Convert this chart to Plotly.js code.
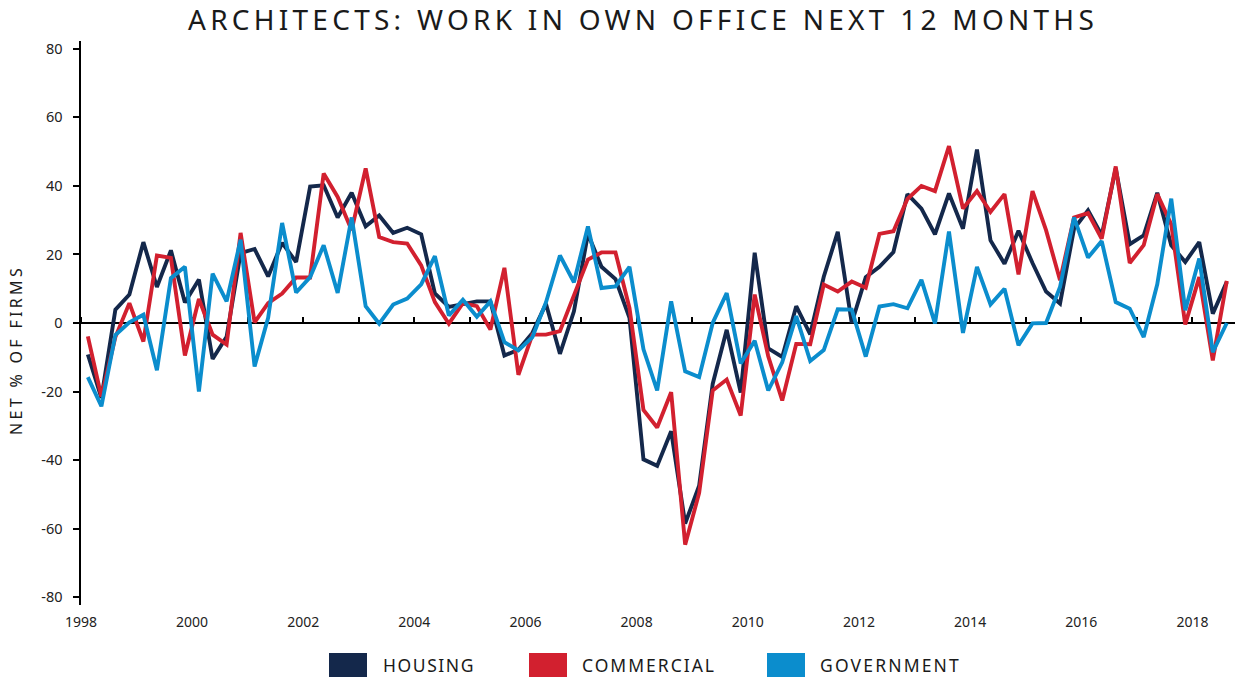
<!DOCTYPE html>
<html>
<head>
<meta charset="utf-8">
<script src="https://cdn.plot.ly/plotly-3.0.1.min.js"></script>
<style>
  html, body { margin: 0; padding: 0; background: #ffffff; }
  #chart { width: 1237px; height: 681px; }
</style>
</head>
<body>
<div id="chart"></div>
<script>
// ---- Data (quarterly, first quarter = 1998 Q1) ----
const firstYear = 1998;
const seriesNames = ["HOUSING", "COMMERCIAL", "GOVERNMENT"];
const seriesColors = ["#14284b", "#d2202f", "#0b8dcd"];

const housing = [
  -9.2, -21.9, 3.9, 8.3, 23.6, 10.5, 21.2, 6.0, 12.7, -10.5, -4.0, 20.4,
  21.6, 13.6, 23.4, 17.8, 39.8, 40.2, 30.8, 38.0, 28.2, 31.4, 26.3, 27.8,
  25.9, 8.6, 4.7, 5.5, 6.3, 6.3, -9.5, -7.8, -2.9, 5.6, -9.0, 3.4,
  26.0, 16.4, 12.8, 1.5, -39.8, -41.7, -31.6, -58.5, -47.5, -17.8, -2.0, -20.3,
  20.5, -7.4, -9.9, 4.9, -3.3, 13.5, 26.6, 0.0, 13.4, 16.4, 20.7, 37.6,
  33.4, 25.9, 37.8, 27.5, 50.6, 24.1, 17.3, 26.9, 17.5, 9.2, 5.7, 27.5,
  32.9, 25.6, 45.1, 23.0, 25.6, 38.0, 22.7, 17.8, 23.6, 2.7, 12.0
];
const commercial = [
  -3.9, -21.5, -4.1, 5.8, -5.4, 19.7, 19.0, -9.5, 7.0, -3.4, -6.3, 26.3,
  0.2, 5.8, 8.6, 13.3, 13.3, 43.6, 36.8, 27.1, 45.1, 25.1, 23.6, 23.2,
  16.8, 6.1, -0.2, 5.8, 4.9, -1.9, 16.1, -15.1, -3.4, -3.4, -2.4, 8.3,
  18.5, 20.6, 20.6, 4.4, -25.4, -30.5, -20.2, -64.7, -49.6, -19.7, -16.5, -27.0,
  8.3, -9.7, -22.6, -6.1, -6.2, 11.2, 9.2, 12.1, 10.3, 26.0, 26.8, 36.2,
  40.0, 38.5, 51.6, 33.4, 38.5, 32.4, 37.6, 14.2, 38.5, 27.1, 12.5, 30.8,
  32.1, 24.6, 45.7, 17.5, 22.7, 37.6, 28.8, -0.4, 13.4, -10.9, 12.3
];
const government = [
  -15.8, -24.3, -3.5, 0.2, 2.4, -13.8, 13.1, 16.4, -20.0, 14.4, 6.3, 24.3,
  -12.7, 1.5, 29.2, 8.9, 13.4, 22.7, 8.8, 30.8, 4.9, -0.2, 5.4, 7.1,
  11.3, 19.5, 2.2, 6.8, 1.8, 6.3, -5.6, -8.0, -4.1, 6.0, 19.7, 11.9,
  28.2, 10.2, 10.7, 16.4, -7.7, -19.7, 6.3, -14.1, -15.8, 0.0, 8.7, -11.8,
  -5.2, -19.7, -11.5, 2.0, -11.1, -7.9, 4.0, 3.9, -9.8, 4.8, 5.5, 4.3,
  12.6, -0.1, 26.7, -2.9, 16.4, 5.4, 10.0, -6.5, -0.1, 0.0, 10.5, 30.8,
  19.1, 23.9, 6.1, 4.2, -4.1, 11.3, 36.3, 3.7, 18.8, -8.5, 0.0
];
const yTickValues = [-80, -60, -40, -20, 0, 20, 40, 60, 80];
const xTickYears = [1998, 2000, 2002, 2004, 2006, 2008, 2010, 2012, 2014, 2016, 2018];

// quarter mid-points as dates
function quarterDate(i) {
  const y = firstYear + Math.floor(i / 4);
  const m = (i % 4) * 3 + 2;
  return y + "-" + String(m).padStart(2, "0") + "-15";
}
const dates = housing.map((_, i) => quarterDate(i));

const allSeries = [housing, commercial, government];
const traces = allSeries.map((vals, k) => ({
  type: "scatter",
  mode: "lines",
  x: dates,
  y: vals,
  name: seriesNames[k],
  line: { color: seriesColors[k], width: 3.9 },
  showlegend: false,
  hoverinfo: "x+y+name"
}));
// carrier trace for the zero-line tick axis
traces.push({ type: "scatter", mode: "lines", x: [dates[0]], y: [null], xaxis: "x2", yaxis: "y", showlegend: false, hoverinfo: "skip" });

// ---- Layout geometry ----
const W = 1237, H = 681;
const mL = 81, mR = 2, mT = 41, mB = 76;
const plotW = W - mL - mR, plotH = H - mT - mB;
const px2x = px => (px - mL) / plotW;
const py2y = py => (H - mB - py) / plotH;
const xRange = ["1998-01-01", "2018-10-08"];
const yRange = [-82.3, 82.3];

const fontFam = "'Noto Sans', 'Open Sans', sans-serif";

// custom legend (coloured boxes + labels)
const legendBoxes = [[329, 367, 383], [529, 567, 582], [767, 805, 820]];
const legendTextWidths = [90, 132, 139];
const shapes = [], annotations = [];
legendBoxes.forEach((b, k) => {
  shapes.push({
    type: "rect", xref: "paper", yref: "paper",
    x0: px2x(b[0]), x1: px2x(b[1]), y0: py2y(677), y1: py2y(653),
    fillcolor: seriesColors[k], line: { width: 0 }
  });
  annotations.push({
    xref: "paper", yref: "paper", x: px2x(b[2]), y: py2y(665),
    xanchor: "left", yanchor: "middle", showarrow: false,
    text: seriesNames[k], font: { family: fontFam, size: 17.5, color: "#1a1a1a" }
  });
});

const layout = {
  width: W, height: H,
  margin: { l: mL, r: mR, t: mT, b: mB, pad: 0 },
  paper_bgcolor: "#ffffff", plot_bgcolor: "#ffffff",
  showlegend: false,
  title: {
    text: "ARCHITECTS: WORK IN OWN OFFICE NEXT 12 MONTHS",
    font: { family: fontFam, size: 28, color: "#1a1a1a" },
    x: 640 / W, xanchor: "center", xref: "paper",
    y: 1 - 20 / H, yanchor: "middle", yref: "container"
  },
  xaxis: {
    type: "date", range: xRange,
    showgrid: false, zeroline: false, showline: false, ticks: "",
    tickvals: xTickYears.map(y => y + "-01-01"),
    ticktext: xTickYears.map(String),
    tickfont: { family: fontFam, size: 14, color: "#222" },
    ticklabelstandoff: 7
  },
  xaxis2: {
    type: "date", range: xRange, overlaying: "x", anchor: "free", position: 0.5,
    side: "top", showgrid: false, zeroline: false, showline: false,
    ticks: "outside", ticklen: 6, tickwidth: 2, tickcolor: "#000",
    tick0: "1998-01-01", dtick: "M12", showticklabels: false,
    layer: "below traces"
  },
  yaxis: {
    range: yRange, tickvals: yTickValues, ticktext: yTickValues.map(String),
    showgrid: false, showline: true, linecolor: "#000", linewidth: 2.5,
    ticks: "outside", ticklen: 6, tickwidth: 2, tickcolor: "#000",
    zeroline: true, zerolinecolor: "#000", zerolinewidth: 2.5,
    tickfont: { family: fontFam, size: 14.5, color: "#222" },
    ticklabelstandoff: 7,
    title: { text: "NET % OF FIRMS", font: { family: fontFam, size: 16, color: "#1a1a1a" }, standoff: 16 }
  },
  shapes: shapes,
  annotations: annotations
};

// stretch a text element to a target width with letter spacing (text stays text)
function spreadText(el, targetWidth) {
  if (!el) return;
  const txt = el.textContent || "";
  const w = el.getComputedTextLength ? el.getComputedTextLength() : el.getBBox().width;
  const n = Math.max(1, txt.length);
  const sp = (targetWidth - w) / n;
  if (sp > 0) el.setAttribute("letter-spacing", sp.toFixed(2) + "px");
}
// move a text element so its on-screen box starts at (left, top) (either may be null)
function placeText(el, left, top) {
  if (!el) return;
  const svgRect = el.ownerSVGElement.getBoundingClientRect();
  const r = el.getBoundingClientRect();
  const dx = left == null ? 0 : left - (r.left - svgRect.left);
  const dy = top == null ? 0 : top - (r.top - svgRect.top);
  const t = el.getAttribute("transform") || "";
  el.setAttribute("transform", "translate(" + dx.toFixed(2) + "," + dy.toFixed(2) + ") " + t);
}

Plotly.newPlot("chart", traces, layout, { displayModeBar: false, staticPlot: true }).then(gd => {
  const title = gd.querySelector(".gtitle");
  spreadText(title, 904 + 6);
  placeText(title, 188, null);
  const ytitle = gd.querySelector(".ytitle");
  spreadText(ytitle, 167 + 3);
  placeText(ytitle, 5, 265);
  const annTexts = gd.querySelectorAll(".annotation-text");
  annTexts.forEach((el, k) => {
    spreadText(el, legendTextWidths[k] + 2);
    placeText(el, legendBoxes[k][2], null);
  });
});
</script>
</body>
</html>
